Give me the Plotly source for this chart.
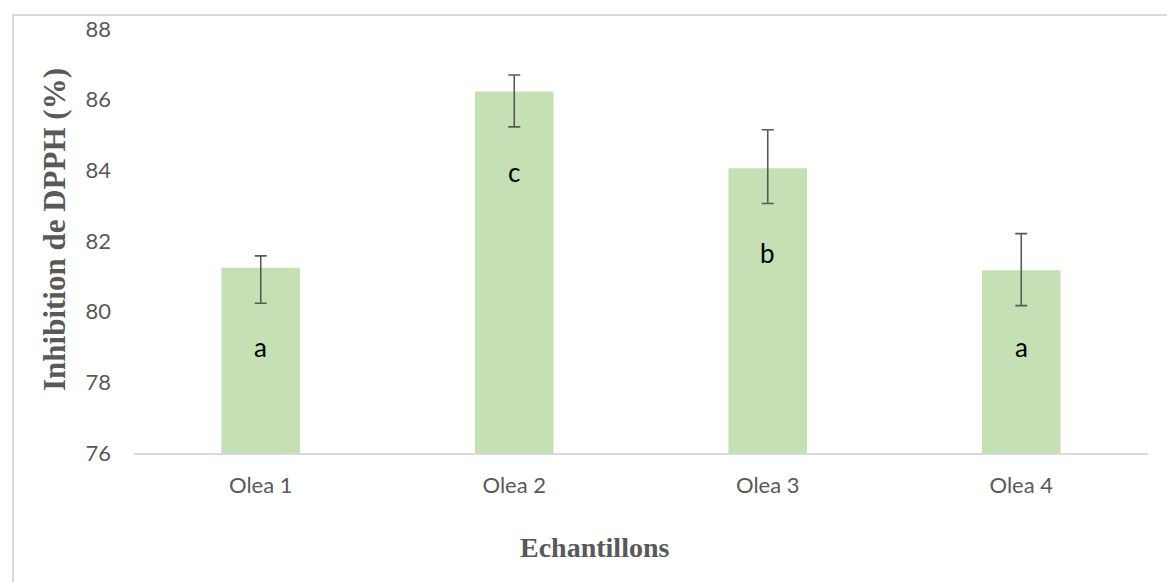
import plotly.graph_objects as go

# Sample names and DPPH inhibition results
samples = ["Olea 1", "Olea 2", "Olea 3", "Olea 4"]
inhibition = [81.24, 86.23, 84.06, 81.17]
err_plus = [0.34, 0.47, 1.09, 1.04]
err_minus = [1.0, 1.0, 1.0, 1.0]

# Significance groups and the height where each letter sits
groups = ["a", "c", "b", "a"]
group_y = [79.0, 83.95, 81.65, 79.0]

y_ticks = [76, 78, 80, 82, 84, 86, 88]

W, H = 1167, 582
L, R, T, B = 134, 19, 29, 129
pw, ph = W - L - R, H - T - B


def px_x(x):
    return (x - L) / pw


def px_y(y):
    return (H - B - y) / ph


fig = go.Figure()
fig.add_trace(go.Bar(
    x=samples,
    y=inhibition,
    marker=dict(color="#C5E0B4", line=dict(width=0)),
    error_y=dict(
        type="data", symmetric=False,
        array=err_plus, arrayminus=err_minus,
        color="#595959", thickness=1.6, width=6,
    ),
    hoverinfo="x+y",
))

annotations = []
for s, g, gy in zip(samples, groups, group_y):
    annotations.append(dict(
        x=s, y=gy, xref="x", yref="y", text=g, showarrow=False,
        xanchor="center", yanchor="middle",
        font=dict(family="Lato, Open Sans, sans-serif", size=26, color="#000000"),
    ))

annotations.append(dict(
    x=px_x(594), y=px_y(547), xref="paper", yref="paper",
    xanchor="center", yanchor="middle",
    text="<b>Echantillons</b>", showarrow=False,
    font=dict(family="Liberation Serif, Times New Roman, serif", size=28, color="#595959"),
))
annotations.append(dict(
    x=px_x(54), y=px_y(230), xref="paper", yref="paper",
    xanchor="center", yanchor="middle",
    text="<b>Inhibition de DPPH (%)</b>", showarrow=False, textangle=-90,
    font=dict(family="Liberation Serif, Times New Roman, serif", size=31, color="#595959"),
))

fig.update_layout(
    width=W, height=H,
    margin=dict(l=L, r=R, t=T, b=B),
    paper_bgcolor="white", plot_bgcolor="white",
    bargap=0.69,
    showlegend=False,
    annotations=annotations,
    shapes=[dict(
        type="rect", xref="paper", yref="paper",
        x0=px_x(13), y0=px_y(15), x1=px_x(1200), y1=px_y(620),
        line=dict(color="#D9D9D9", width=2), fillcolor="rgba(0,0,0,0)",
        layer="below",
    )],
    xaxis=dict(
        showgrid=False, zeroline=False,
        showline=True, linecolor="#D9D9D9", linewidth=1.5,
        ticks="", ticklabelstandoff=12,
        tickfont=dict(family="Lato, Open Sans, sans-serif", size=22, color="#595959"),
    ),
    yaxis=dict(
        range=[76, 88], tickvals=y_ticks,
        showgrid=False, zeroline=False, showline=False,
        ticks="", ticklabelstandoff=22,
        tickfont=dict(family="Lato, Open Sans, sans-serif", size=22, color="#595959"),
    ),
)

fig.write_html("out.html")
